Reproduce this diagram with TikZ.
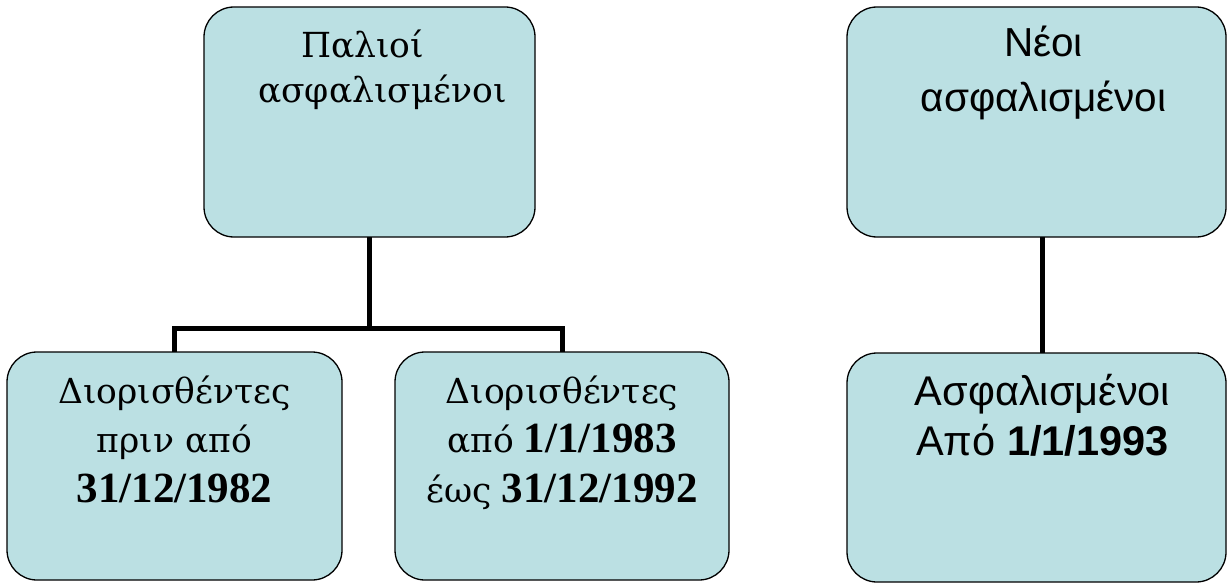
\documentclass[tikz,border=0pt]{standalone}
\usepackage{fontspec}
\setmainfont{Liberation Serif}
\newfontfamily\grserif{DejaVu Serif}
\newfontfamily\arialgr{Liberation Sans}
\definecolor{boxfill}{RGB}{187,224,227}
\newcommand{\gs}[1]{{\grserif\fontsize{34.5pt}{34.5pt}\selectfont #1}}
\newcommand{\bd}[1]{{\fontsize{43pt}{43pt}\selectfont\bfseries #1}}
\begin{document}
\begin{tikzpicture}[x=1pt,y=-1pt,
  box/.style={draw=black, line width=1.3pt, fill=boxfill, rounded corners=30pt, inner sep=0pt, outer sep=0pt},
  conn/.style={line width=5pt, line join=miter}]
\useasboundingbox (0,0) rectangle (1228,583);
\node[box] (old) at (369.5,122) {\parbox[c][230pt][t]{331pt}{\grserif\fontsize{34.5pt}{45pt}\selectfont\raggedright\hspace*{97pt}\rule{0pt}{51pt}Παλιοί\\\hspace*{54pt}ασφαλισμένοι}};
\node[box] (new) at (1036.5,122) {\parbox[c][230pt][t]{379pt}{\arialgr\fontsize{40.5pt}{55pt}\selectfont\centering\hspace*{14pt}\rule{0pt}{50pt}Νέοι\\\hspace*{14pt}ασφαλισμένοι}};
\node[box] (b1) at (174.5,466) {\parbox[c][228pt][t]{335pt}{\fontsize{40pt}{49.5pt}\selectfont\centering\rule{0pt}{51pt}\gs{Διορισθέντες}\\\gs{πριν από}\\\bd{31/12/1982}}};
\node[box] (b2) at (562,466) {\parbox[c][228pt][t]{334pt}{\fontsize{40pt}{49.5pt}\selectfont\centering\rule{0pt}{51pt}\gs{Διορισθέντες}\\\gs{από} \bd{1/1/1983}\\\gs{έως} \bd{31/12/1992}}};
\node[box] (b3) at (1036.5,467.5) {\parbox[c][229pt][t]{379pt}{\arialgr\fontsize{41.5pt}{50pt}\selectfont\centering\hspace*{12pt}\rule{0pt}{52pt}Ασφαλισμένοι\\\hspace*{12pt}Από \textbf{1/1/1993}}};
\coordinate (j) at (369.5,328);
\draw[conn] (old.south) -- (j);
\draw[conn] (b1.north) |- (j) -| (b2.north);
\draw[conn] ([xshift=6pt]new.south) -- ([xshift=6pt]b3.north);
\end{tikzpicture}
\end{document}
